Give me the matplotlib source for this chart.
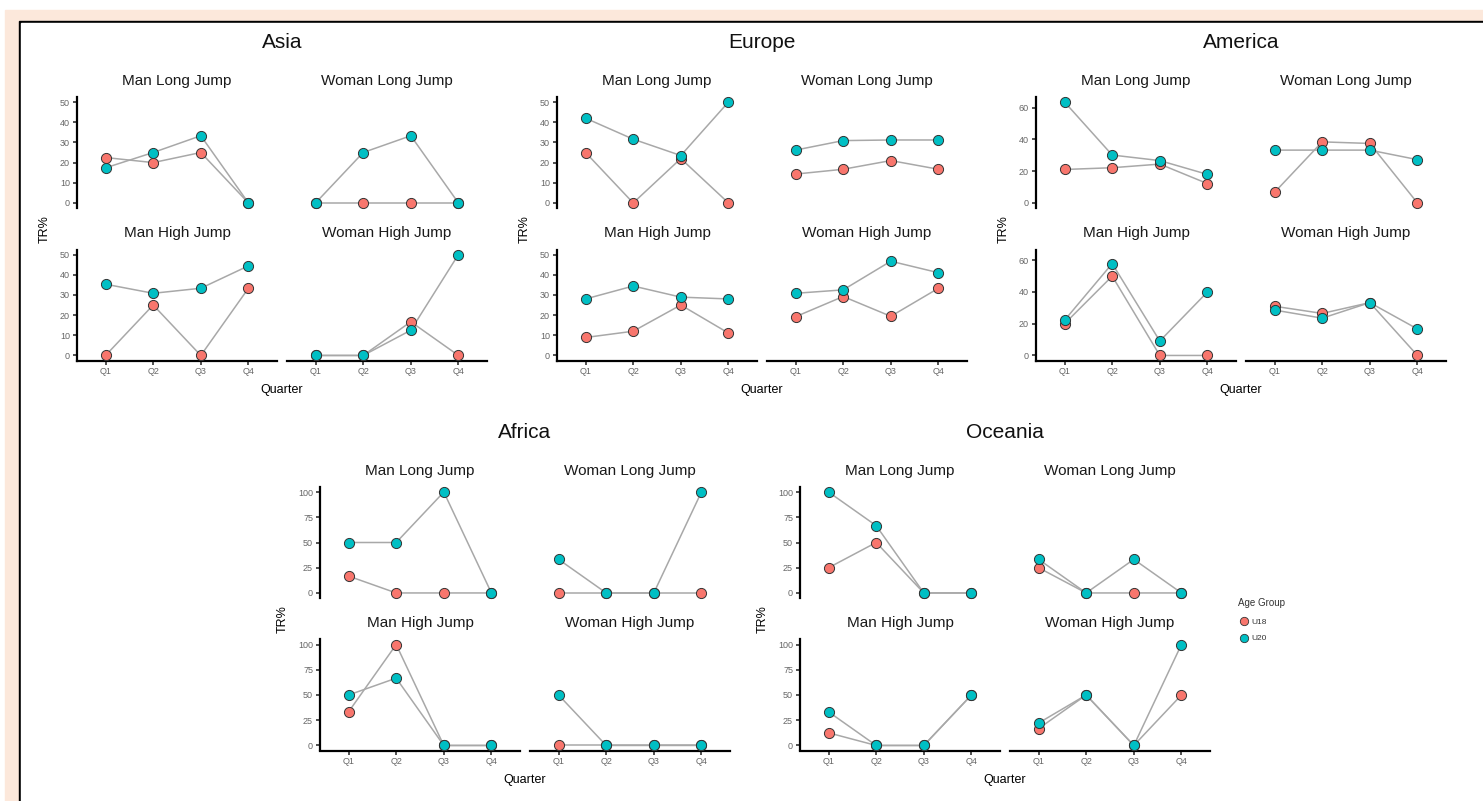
import matplotlib

matplotlib.use("Agg")
import matplotlib.pyplot as plt  # noqa: E402
from matplotlib.lines import Line2D  # noqa: E402
from matplotlib.patches import Rectangle  # noqa: E402

plt.rcParams["font.family"] = ["Liberation Sans", "DejaVu Sans"]

# --- data (TR% per quarter, one row per event) ---
quarters = ["Q1", "Q2", "Q3", "Q4"]
events = ["Man Long Jump", "Woman Long Jump", "Man High Jump", "Woman High Jump"]
age_groups = ["U18", "U20"]

asia_u18 = [[22.5, 20.0, 25.0, 0], [0, 0, 0, 0], [0, 25.0, 0, 33.3], [0, 0, 16.7, 0]]
asia_u20 = [[17.4, 25.0, 33.3, 0], [0, 25.0, 33.3, 0], [35.3, 30.8, 33.3, 44.4], [0, 0, 12.5, 50.0]]
asia_ticks = [0, 10, 20, 30, 40, 50]

europe_u18 = [[25.0, 0, 22.0, 0], [14.3, 16.7, 21.0, 16.7], [8.9, 12.0, 25.0, 11.1], [19.2, 29.2, 19.4, 33.3]]
europe_u20 = [[42.0, 31.6, 23.5, 50.0], [26.2, 30.9, 31.2, 31.2], [28.0, 34.4, 28.9, 28.0], [30.8, 32.5, 46.7, 41.0]]
europe_ticks = [0, 10, 20, 30, 40, 50]

america_u18 = [[21.1, 22.2, 24.5, 12.2], [6.7, 38.5, 37.5, 0], [20.0, 50.0, 0, 0], [31.0, 26.5, 33.3, 0]]
america_u20 = [[63.6, 30.2, 26.7, 18.0], [33.3, 33.3, 33.3, 27.3], [22.2, 57.9, 9.1, 40.0], [28.6, 23.5, 33.3, 16.7]]
america_ticks = [0, 20, 40, 60]

africa_u18 = [[16.7, 0, 0, 0], [0, 0, 0, 0], [33.3, 100.0, 0, 0], [0, 0, 0, 0]]
africa_u20 = [[50.0, 50.0, 100.0, 0], [33.3, 0, 0, 100.0], [50.0, 66.7, 0, 0], [50.0, 0, 0, 0]]
africa_ticks = [0, 25, 50, 75, 100]

oceania_u18 = [[25.0, 50.0, 0, 0], [25.0, 0, 0, 0], [12.5, 0, 0, 50.0], [16.7, 50.0, 0, 50.0]]
oceania_u20 = [[100.0, 66.7, 0, 0], [33.3, 0, 33.3, 0], [33.3, 0, 0, 50.0], [22.2, 50.0, 0, 100.0]]
oceania_ticks = [0, 25, 50, 75, 100]

regions = {
    "Asia": (asia_u18, asia_u20, asia_ticks),
    "Europe": (europe_u18, europe_u20, europe_ticks),
    "America": (america_u18, america_u20, america_ticks),
    "Africa": (africa_u18, africa_u20, africa_ticks),
    "Oceania": (oceania_u18, oceania_u20, oceania_ticks),
}

# --- layout (pixels, origin top-left) ---
W, H = 1483, 801
origins = {"Asia": (77, 97), "Europe": (557, 97), "America": (1036, 97),
           "Africa": (320, 487), "Oceania": (800, 487)}
PW, PH, COL_STEP, ROW_STEP = 200, 111, 210, 152.5

colors = {"U18": "#F8766D", "U20": "#00BFC4"}
line_grey = "#A8A8A8"
edge = "#333333"


def fx(x):
    return x / W


def fy(y):
    return 1 - y / H


fig = plt.figure(figsize=(W / 100, H / 100), dpi=100)

# page frame: peach margin, black rule, white sheet
fig.add_artist(Rectangle((fx(5), 0), 1, fy(10), color="#FCE8DB", zorder=-10, transform=fig.transFigure))
fig.add_artist(Rectangle((fx(19), 0), 1, fy(21), color="black", zorder=-9, transform=fig.transFigure))
fig.add_artist(Rectangle((fx(21), 0), 1, fy(23), color="white", zorder=-8, transform=fig.transFigure))

for name, (u18, u20, ticks) in regions.items():
    x0, y0 = origins[name]
    first = None
    for i, event in enumerate(events):
        row, col = divmod(i, 2)
        left = x0 + col * COL_STEP
        top = y0 + row * ROW_STEP
        ax = fig.add_axes([fx(left), fy(top + PH), PW / W, PH / H], sharey=first)
        if first is None:
            first = ax
        ax.set_facecolor("none")
        xs = range(len(quarters))
        for vals in (u18[i], u20[i]):
            ax.plot(xs, vals, color=line_grey, lw=1.1, zorder=1)
        for grp, vals in zip(age_groups, (u18[i], u20[i])):
            ax.plot(xs, vals, "o", ms=7.3, mfc=colors[grp], mec=edge, mew=0.7,
                    zorder=3, clip_on=False)
        ax.set_xlim(-0.6, 3.6)
        ax.set_xticks(list(xs), quarters)
        ax.set_yticks(ticks)
        for s in ("top", "right"):
            ax.spines[s].set_visible(False)
        for s in ("left", "bottom"):
            ax.spines[s].set_linewidth(1.6)
        ax.tick_params(length=3, width=1.2, color=edge, labelsize=6.5,
                       labelcolor="#666666", pad=2)
        if col == 1:
            ax.spines["left"].set_visible(False)
            ax.tick_params(axis="y", left=False, labelleft=False)
        if row == 0:
            ax.spines["bottom"].set_visible(False)
            ax.tick_params(axis="x", bottom=False, labelbottom=False)
        fig.text(fx(left + PW / 2), fy(top - 16), event, ha="center", va="center",
                 fontsize=11, color="#1A1A1A")

    cx = x0 + (COL_STEP + PW) / 2
    fig.text(fx(cx), fy(y0 - 54), name, ha="center", va="center", fontsize=15, color="#111111")
    fig.text(fx(cx), fy(y0 + ROW_STEP + PH + 29), "Quarter", ha="center", va="center", fontsize=9)
    pad = 37 if max(ticks) >= 100 else 32
    fig.text(fx(x0 - pad), fy(y0 + (ROW_STEP + PH) / 2), "TR%", ha="center", va="center",
             rotation=90, fontsize=9)

handles = [Line2D([], [], marker="o", ls="", ms=6, mfc=colors[g], mec=edge, mew=0.6, label=g)
           for g in age_groups]
leg = fig.legend(handles=handles, title="Age Group", loc="upper left",
                 bbox_to_anchor=(fx(1231), fy(591)), frameon=False, fontsize=6,
                 title_fontsize=7, handletextpad=0.3, labelspacing=1.1,
                 handlelength=1.2, alignment="left")
leg.get_title().set_color("#333333")
for t in leg.get_texts():
    t.set_color("#333333")

fig.savefig("out.png", dpi=100)
